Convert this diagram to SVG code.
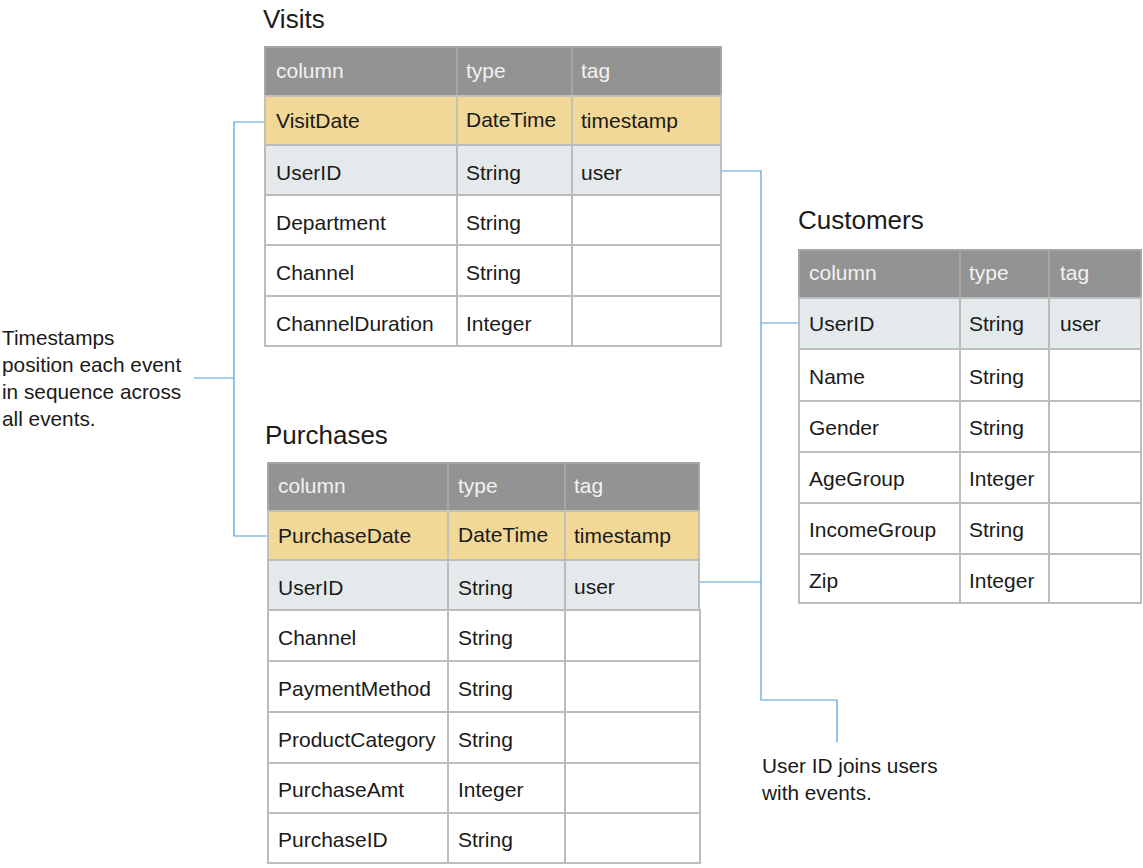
<svg xmlns="http://www.w3.org/2000/svg" width="1143" height="868" viewBox="0 0 1143 868">
<style>
text{font-family:"Liberation Sans",Arial,sans-serif;fill:#1a1a1a}
.title{font-size:26px}
.t{font-size:21px}
.h{font-size:21px;fill:#f2f2f2}
.note{font-size:20.8px}
.hd{fill:#939393;stroke:#a6a6a6;stroke-width:2}
.ts{fill:#f2d897;stroke:#c4c0b4;stroke-width:2}
.us{fill:#e4eaec;stroke:#bcbcbc;stroke-width:2}
.c{fill:#ffffff;stroke:#bcbcbc;stroke-width:2}
.con{fill:none;stroke:#4f9fdc;stroke-width:1.2}
</style>
<rect width="1143" height="868" fill="#ffffff"/>

<g id="connectors">
<polyline class="con" points="265,122 234,122 234,536 268,536"/>
<line class="con" x1="194" y1="378" x2="234" y2="378"/>
<polyline class="con" points="721,171 761,171 761,700 837,700 837,742"/>
<line class="con" x1="761" y1="323" x2="799" y2="323"/>
<line class="con" x1="699" y1="582" x2="761" y2="582"/>
</g>

<g id="visits">
<text class="title" x="263" y="28">Visits</text>
<rect class="hd" x="265" y="47" width="192" height="49"/><rect class="hd" x="457" y="47" width="115" height="49"/><rect class="hd" x="572" y="47" width="149" height="49"/>
<rect class="ts" x="265" y="96" width="192" height="49"/><rect class="ts" x="457" y="96" width="115" height="49"/><rect class="ts" x="572" y="96" width="149" height="49"/>
<rect class="us" x="265" y="145" width="192" height="50"/><rect class="us" x="457" y="145" width="115" height="50"/><rect class="us" x="572" y="145" width="149" height="50"/>
<rect class="c" x="265" y="195" width="192" height="50"/><rect class="c" x="457" y="195" width="115" height="50"/><rect class="c" x="572" y="195" width="149" height="50"/>
<rect class="c" x="265" y="245" width="192" height="51"/><rect class="c" x="457" y="245" width="115" height="51"/><rect class="c" x="572" y="245" width="149" height="51"/>
<rect class="c" x="265" y="296" width="192" height="50"/><rect class="c" x="457" y="296" width="115" height="50"/><rect class="c" x="572" y="296" width="149" height="50"/>
<text class="h" x="276" y="78">column</text><text class="h" x="466" y="78">type</text><text class="h" x="581" y="78">tag</text>
<text class="t" x="276" y="128">VisitDate</text><text class="t" x="466" y="127">DateTime</text><text class="t" x="581" y="128">timestamp</text>
<text class="t" x="276" y="180">UserID</text><text class="t" x="466" y="180">String</text><text class="t" x="581" y="180">user</text>
<text class="t" x="276" y="230">Department</text><text class="t" x="466" y="230">String</text>
<text class="t" x="276" y="280">Channel</text><text class="t" x="466" y="280">String</text>
<text class="t" x="276" y="331">ChannelDuration</text><text class="t" x="466" y="331">Integer</text>
</g>

<g id="purchases">
<text class="title" x="265" y="444">Purchases</text>
<rect class="hd" x="268" y="463" width="180" height="48"/><rect class="hd" x="448" y="463" width="117" height="48"/><rect class="hd" x="565" y="463" width="134" height="48"/>
<rect class="ts" x="268" y="511" width="180" height="49"/><rect class="ts" x="448" y="511" width="117" height="49"/><rect class="ts" x="565" y="511" width="134" height="49"/>
<rect class="us" x="268" y="560" width="180" height="50"/><rect class="us" x="448" y="560" width="117" height="50"/><rect class="us" x="565" y="560" width="134" height="50"/>
<rect class="c" x="268" y="610" width="180" height="51"/><rect class="c" x="448" y="610" width="117" height="51"/><rect class="c" x="565" y="610" width="135" height="51"/>
<rect class="c" x="268" y="661" width="180" height="51"/><rect class="c" x="448" y="661" width="117" height="51"/><rect class="c" x="565" y="661" width="135" height="51"/>
<rect class="c" x="268" y="712" width="180" height="51"/><rect class="c" x="448" y="712" width="117" height="51"/><rect class="c" x="565" y="712" width="135" height="51"/>
<rect class="c" x="268" y="763" width="180" height="50"/><rect class="c" x="448" y="763" width="117" height="50"/><rect class="c" x="565" y="763" width="135" height="50"/>
<rect class="c" x="268" y="813" width="180" height="50"/><rect class="c" x="448" y="813" width="117" height="50"/><rect class="c" x="565" y="813" width="135" height="50"/>
<text class="h" x="278" y="493">column</text><text class="h" x="458" y="493">type</text><text class="h" x="574" y="493">tag</text>
<text class="t" x="278" y="543">PurchaseDate</text><text class="t" x="458" y="542">DateTime</text><text class="t" x="574" y="543">timestamp</text>
<text class="t" x="278" y="595">UserID</text><text class="t" x="458" y="595">String</text><text class="t" x="574" y="594">user</text>
<text class="t" x="278" y="645">Channel</text><text class="t" x="458" y="645">String</text>
<text class="t" x="278" y="696">PaymentMethod</text><text class="t" x="458" y="696">String</text>
<text class="t" x="278" y="747">ProductCategory</text><text class="t" x="458" y="747">String</text>
<text class="t" x="278" y="797">PurchaseAmt</text><text class="t" x="458" y="797">Integer</text>
<text class="t" x="278" y="847">PurchaseID</text><text class="t" x="458" y="847">String</text>
</g>

<g id="customers">
<text class="title" x="798" y="229">Customers</text>
<rect class="hd" x="799" y="250" width="161" height="48"/><rect class="hd" x="960" y="250" width="89" height="48"/><rect class="hd" x="1049" y="250" width="92" height="48"/>
<rect class="us" x="799" y="298" width="161" height="51"/><rect class="us" x="960" y="298" width="89" height="51"/><rect class="us" x="1049" y="298" width="92" height="51"/>
<rect class="c" x="799" y="349" width="161" height="52"/><rect class="c" x="960" y="349" width="89" height="52"/><rect class="c" x="1049" y="349" width="92" height="52"/>
<rect class="c" x="799" y="401" width="161" height="51"/><rect class="c" x="960" y="401" width="89" height="51"/><rect class="c" x="1049" y="401" width="92" height="51"/>
<rect class="c" x="799" y="452" width="161" height="51"/><rect class="c" x="960" y="452" width="89" height="51"/><rect class="c" x="1049" y="452" width="92" height="51"/>
<rect class="c" x="799" y="503" width="161" height="51"/><rect class="c" x="960" y="503" width="89" height="51"/><rect class="c" x="1049" y="503" width="92" height="51"/>
<rect class="c" x="799" y="554" width="161" height="49"/><rect class="c" x="960" y="554" width="89" height="49"/><rect class="c" x="1049" y="554" width="92" height="49"/>
<text class="h" x="809" y="280">column</text><text class="h" x="969" y="280">type</text><text class="h" x="1060" y="280">tag</text>
<text class="t" x="809" y="331">UserID</text><text class="t" x="969" y="331">String</text><text class="t" x="1060" y="331">user</text>
<text class="t" x="809" y="384">Name</text><text class="t" x="969" y="384">String</text>
<text class="t" x="809" y="435">Gender</text><text class="t" x="969" y="435">String</text>
<text class="t" x="809" y="486">AgeGroup</text><text class="t" x="969" y="486">Integer</text>
<text class="t" x="809" y="537">IncomeGroup</text><text class="t" x="969" y="537">String</text>
<text class="t" x="809" y="588">Zip</text><text class="t" x="969" y="588">Integer</text>
</g>

<g id="note-timestamps">
<text class="note" x="2" y="345">Timestamps</text>
<text class="note" x="2" y="372">position each event</text>
<text class="note" x="2" y="399">in sequence across</text>
<text class="note" x="2" y="426">all events.</text>
</g>

<g id="note-userid">
<text class="note" x="762" y="773">User ID joins users</text>
<text class="note" x="762" y="800">with events.</text>
</g>
</svg>
